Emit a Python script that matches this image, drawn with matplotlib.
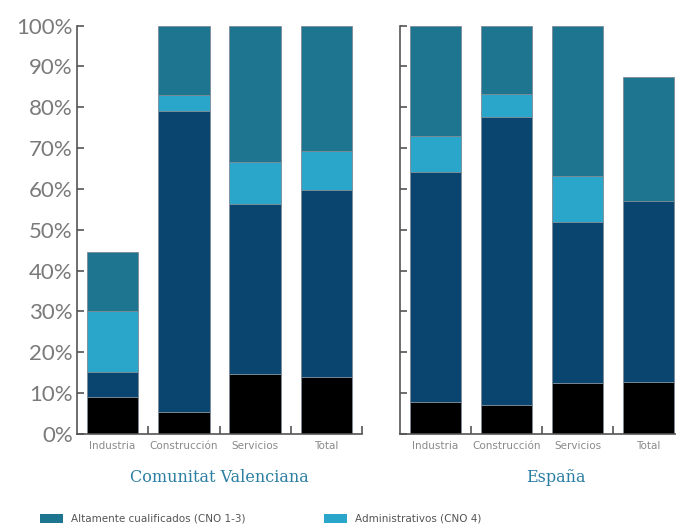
import numpy as np
import matplotlib.pyplot as plt
from matplotlib.patches import Patch

categories = ['Industria', 'Construcción', 'Servicios', 'Total']
groups = ['Comunitat Valenciana', 'España']

# shares (%) per occupational level, stacked bottom to top
basicos = {
    'Comunitat Valenciana': [9.1, 5.5, 14.6, 14.0],
    'España': [7.8, 7.0, 12.4, 12.8],
}
cualificados = {
    'Comunitat Valenciana': [6.0, 73.6, 41.7, 45.7],
    'España': [56.3, 70.6, 39.6, 44.3],
}
administrativos = {
    'Comunitat Valenciana': [15.1, 4.0, 10.3, 9.6],
    'España': [8.9, 5.6, 11.2, 0.0],
}
altamente = {
    'Comunitat Valenciana': [14.3, 16.9, 33.4, 30.7],
    'España': [27.0, 16.8, 36.8, 30.2],
}

c_alta = '#1e7590'
c_admin = '#2aa6ca'
c_cual = '#0a4570'
c_bas = '#000000'
grey = '#555555'
light = '#8a8a8a'

fig = plt.figure(figsize=(6.76, 5.27), dpi=100)
ax_l = fig.add_axes([77 / 676, 93 / 527, 285 / 676, 408.5 / 527])
ax_r = fig.add_axes([400 / 676, 93 / 527, 284 / 676, 408.5 / 527])

x = np.arange(len(categories))
w = 0.72

for ax, g in zip([ax_l, ax_r], groups):
    b1 = np.array(basicos[g])
    b2 = b1 + np.array(cualificados[g])
    b3 = b2 + np.array(administrativos[g])
    kw = dict(width=w, edgecolor='#7d8a96', linewidth=0.6)
    ax.bar(x, basicos[g], color=c_bas, **kw)
    ax.bar(x, cualificados[g], bottom=b1, color=c_cual, **kw)
    ax.bar(x, administrativos[g], bottom=b2, color=c_admin, **kw)
    ax.bar(x, altamente[g], bottom=b3, color=c_alta, **kw)

    ax.set_xlim(-0.5, 3.5)
    ax.set_ylim(0, 100)
    for s in ['top', 'right']:
        ax.spines[s].set_visible(False)
    for s in ['left', 'bottom']:
        ax.spines[s].set_color(grey)
        ax.spines[s].set_linewidth(1.2)

    # category ticks sit on the boundaries between bars
    ax.set_xticks(np.arange(0.5, 4, 1.0))
    ax.set_xticklabels([])
    ax.set_xticks(x, minor=True)
    ax.set_xticklabels(categories, minor=True, fontsize=7.5, color=light)
    ax.tick_params(axis='x', which='major', direction='in', length=6,
                   color=grey, width=1.2)
    ax.tick_params(axis='x', which='minor', length=0, pad=5)

    ax.set_yticks(np.arange(0, 101, 10))
    ax.tick_params(axis='y', direction='in', length=5, color=grey, width=1.2)

    ax.text(0.5 if ax is ax_l else 0.55, -0.085, g, transform=ax.transAxes,
            ha='center', va='top', fontsize=11.5, color='#2b7fa3',
            family='DejaVu Serif')

ax_l.set_yticklabels(['%d%%' % v for v in range(0, 101, 10)],
                     fontsize=16, color='#7a7a7a', family='Lato')
ax_l.tick_params(axis='y', pad=3)
ax_r.set_yticklabels([])

handles = [Patch(facecolor=c_alta, edgecolor='none'),
           Patch(facecolor=c_admin, edgecolor='none')]
labels = ['Altamente cualificados (CNO 1-3)', 'Administrativos (CNO 4)']
fig.legend(handles, labels, loc='lower left', bbox_to_anchor=(0.045, -0.012),
           ncol=2, frameon=False, fontsize=7.5, handlelength=2.2,
           handleheight=1.0, columnspacing=7.5, labelcolor='#555555')

plt.savefig('out.png', dpi=100)
